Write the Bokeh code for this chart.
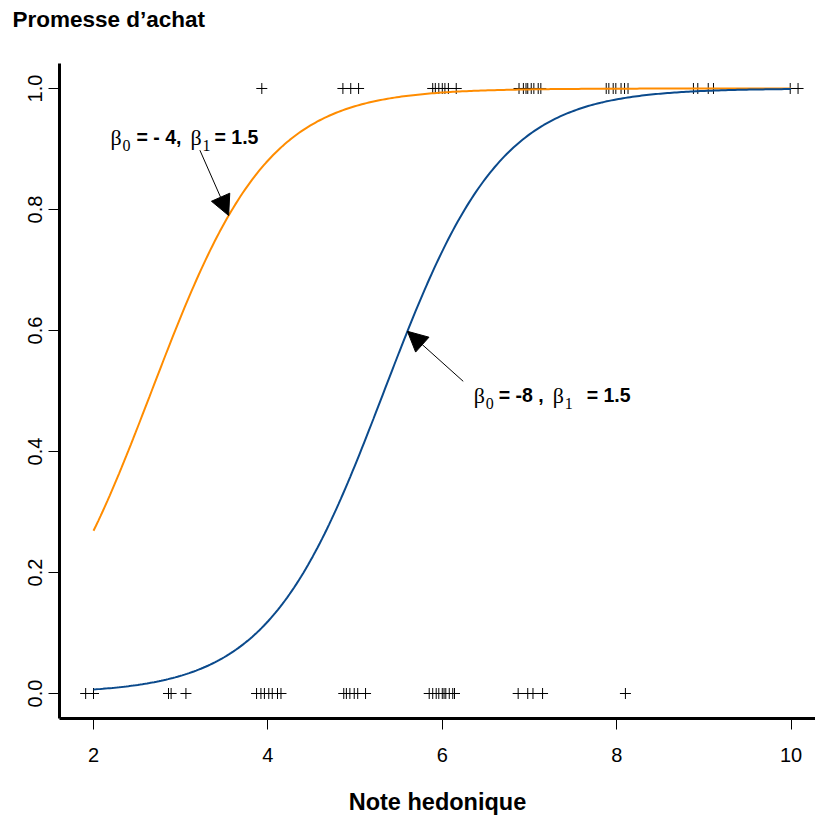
import numpy as np
from bokeh.plotting import figure
from bokeh.models import (Arrow, NormalHead, FixedTicker, Range1d,
                          ColumnDataSource, Title)
from bokeh.core.properties import value
from bokeh.embed import file_html
from bokeh.resources import INLINE

# Hedonic scores of consumers who promised to buy (1) and who did not (0)
x_buy = [3.93,
         4.86, 4.95, 5.04,
         5.89, 5.92, 5.96, 6.00, 6.03, 6.07, 6.16,
         6.88, 6.93, 6.96, 6.98, 7.02, 7.05, 7.10, 7.13,
         7.88, 7.91, 7.96, 7.99, 8.05, 8.09, 8.13,
         8.88, 8.93, 9.05, 9.11,
         9.99, 10.08]
x_nobuy = [1.91, 2.00,
           2.86, 2.89, 3.06,
           3.87, 3.92, 3.96, 4.01, 4.05, 4.11, 4.15,
           4.87, 4.90, 4.94, 4.99, 5.03, 5.12,
           5.85, 5.89, 5.93, 5.96, 6.00, 6.02, 6.04, 6.08, 6.12, 6.14,
           6.87, 6.98, 7.04, 7.15,
           8.10]

# Logistic models: (beta0, beta1)
beta0 = [-4.0, -8.0]
beta1 = [1.5, 1.5]
curve_colors = ["#ff8c00", "#0b4a8c"]
x_min, x_max = 2.0, 10.0

# Annotation anchors and arrow geometry (data units)
label_x = [2.195, 6.36]
label_y = [0.919, 0.493]
label_b0 = ["= - 4,", "= -8 ,"]
label_b1 = ["= 1.5", "= 1.5"]
arrow_tail_x = [3.22, 6.24]
arrow_tail_y = [0.898, 0.516]
arrow_tip_x = [3.55, 5.60]

x_ticks = [2, 4, 6, 8, 10]
y_ticks = [0.0, 0.2, 0.4, 0.6, 0.8, 1.0]
y_tick_labels = ["0.0", "0.2", "0.4", "0.6", "0.8", "1.0"]


def logistic(x, b0, b1):
    return 1.0 / (1.0 + np.exp(-(b0 + b1 * np.asarray(x))))


p = figure(width=815, height=821,
           x_range=Range1d(1.61, 10.28), y_range=Range1d(-0.0413, 1.0413),
           output_backend="svg", toolbar_location=None,
           min_border_left=59, min_border_right=0,
           min_border_top=63, min_border_bottom=103)
p.grid.visible = False
p.outline_line_color = None
p.background_fill_color = "white"
p.border_fill_color = "white"

# Blank band between the frame and the title, pushing the title to the top
p.add_layout(Title(text=" ", text_font_size="10px", standoff=16), "above")

# Title in the top-left corner
p.title.text = "Promesse d\u2019achat"
p.title.align = "left"
p.title.offset = -47
p.title.standoff = 6
p.title.text_font = "Liberation Sans"
p.title.text_font_style = "bold"
p.title.text_font_size = "22.5px"
p.title.text_color = "black"

tick_font = "Liberation Sans"
for ax in (p.xaxis[0], p.yaxis[0]):
    ax.axis_line_width = 3
    ax.axis_line_color = "black"
    ax.major_tick_line_color = "black"
    ax.major_tick_line_width = 1
    ax.major_tick_out = 11
    ax.major_tick_in = 0
    ax.minor_tick_line_color = None
    ax.major_label_text_font = tick_font
    ax.major_label_text_font_size = "20px"
    ax.major_label_text_color = "black"

p.xaxis.ticker = FixedTicker(ticks=x_ticks)
p.xaxis.major_label_standoff = 18
p.xaxis.axis_label = "Note hedonique"
p.xaxis.axis_label_text_font = "Liberation Sans"
p.xaxis.axis_label_text_font_style = "bold"
p.xaxis.axis_label_text_font_size = "23.5px"
p.xaxis.axis_label_text_color = "black"
p.xaxis.axis_label_standoff = 24

p.yaxis.ticker = FixedTicker(ticks=y_ticks)
p.yaxis.major_label_overrides = {t: s for t, s in zip(y_ticks, y_tick_labels)}
p.yaxis.major_label_orientation = "vertical"
p.yaxis.major_label_standoff = 6

# Observations as crosses at 0 / 1
p.scatter(x_buy, [1] * len(x_buy), marker="cross", size=11,
          line_color="black", line_width=1)
p.scatter(x_nobuy, [0] * len(x_nobuy), marker="cross", size=11,
          line_color="black", line_width=1)

# Fitted logistic curves
xs = np.linspace(x_min, x_max, 300)
for b0, b1, c in zip(beta0, beta1, curve_colors):
    p.line(xs, logistic(xs, b0, b1), line_color=c, line_width=2)

# Arrows pointing at the curves
for tx, ty, hx, b0, b1 in zip(arrow_tail_x, arrow_tail_y, arrow_tip_x, beta0, beta1):
    hy = float(logistic(hx, b0, b1))
    p.add_layout(Arrow(end=NormalHead(size=20, fill_color="black",
                                      line_color="black", line_width=1),
                       x_start=tx, y_start=ty, x_end=hx, y_end=hy,
                       line_color="black", line_width=1))

# Parameter labels, built piece by piece (Greek in serif, values in bold sans)
greek_offsets = [(0, 80), (0, 79)]
sub_offsets = [(12, 92), (12, 91)]
bold_offsets = [(26, 104), (25, 113)]

greek = dict(x=[], y=[], text=[], xo=[])
subs = dict(x=[], y=[], text=[], xo=[])
bold = dict(x=[], y=[], text=[], xo=[])
for i in range(2):
    for j, sub in enumerate(["0", "1"]):
        greek["x"].append(label_x[i]); greek["y"].append(label_y[i])
        greek["text"].append("\u03b2"); greek["xo"].append(greek_offsets[i][j])
        subs["x"].append(label_x[i]); subs["y"].append(label_y[i])
        subs["text"].append(sub); subs["xo"].append(sub_offsets[i][j])
    for j, t in enumerate([label_b0[i], label_b1[i]]):
        bold["x"].append(label_x[i]); bold["y"].append(label_y[i])
        bold["text"].append(t); bold["xo"].append(bold_offsets[i][j])

p.text(x="x", y="y", text="text", x_offset="xo", source=ColumnDataSource(greek),
       text_font=value("Liberation Serif"), text_font_size="22px",
       text_align="left", text_baseline="alphabetic", text_color="black")
p.text(x="x", y="y", text="text", x_offset="xo", y_offset=8,
       source=ColumnDataSource(subs),
       text_font=value("Liberation Serif"), text_font_size="16px",
       text_align="left", text_baseline="alphabetic", text_color="black")
p.text(x="x", y="y", text="text", x_offset="xo", source=ColumnDataSource(bold),
       text_font=value("Liberation Sans"), text_font_style="bold",
       text_font_size="19.5px", text_align="left", text_baseline="alphabetic",
       text_color="black")

open("out.html", "w").write(file_html(p, INLINE))
